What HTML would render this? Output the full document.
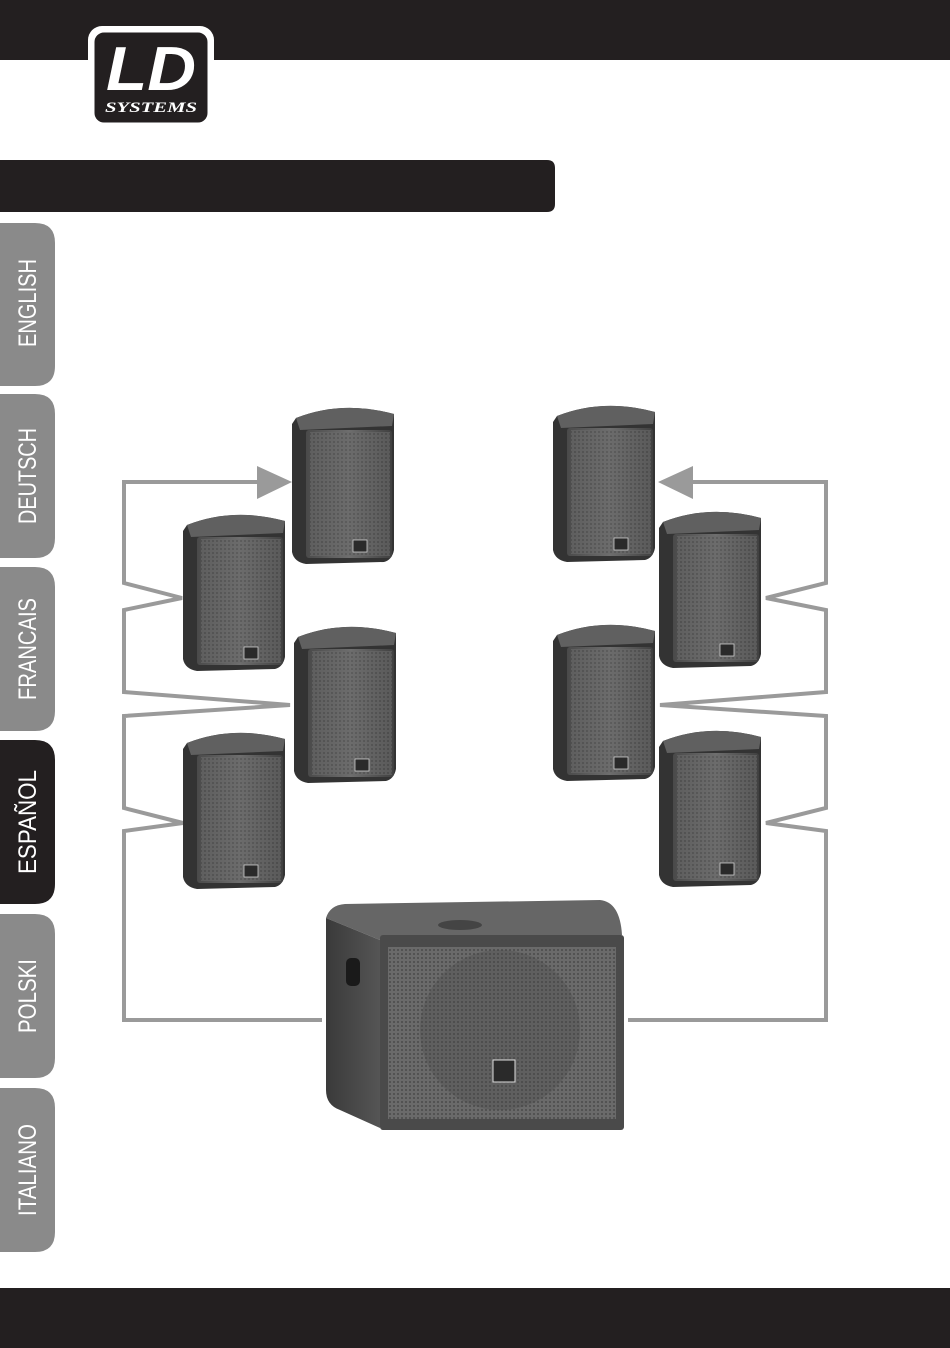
<!DOCTYPE html>
<html><head><meta charset="utf-8"><style>html,body{margin:0;padding:0;background:#fff}svg{display:block}</style></head>
<body>
<svg width="950" height="1348" viewBox="0 0 950 1348" xmlns="http://www.w3.org/2000/svg" font-family="Liberation Sans, sans-serif">
<defs>
<linearGradient id="fr" x1="0" x2="1" y1="0" y2="0"><stop offset="0" stop-color="#4a4a4a"/><stop offset="0.5" stop-color="#6e6e6e"/><stop offset="1" stop-color="#404040"/></linearGradient>
<linearGradient id="sd" x1="0" x2="1"><stop offset="0" stop-color="#3a3a3a"/><stop offset="1" stop-color="#555"/></linearGradient>
<pattern id="dots" width="4" height="4" patternUnits="userSpaceOnUse"><rect width="4" height="4" fill="#6a6a6a"/><circle cx="2" cy="2" r="1" fill="#4a4a4a"/></pattern>
<g id="spk">
<path d="M4 14 Q50 -4 102 10 L102 146 Q100 156 92 158 L14 160 Q2 158 0 148 L0 20 Z" fill="#333"/>
<path d="M4 14 Q50 -4 102 10 L100 22 L8 26 Z" fill="#606060"/>
<rect x="14" y="26" width="86" height="128" rx="3" fill="url(#fr)"/>
<rect x="18" y="28" width="80" height="124" fill="url(#dots)" opacity="0.6"/>
<rect x="61" y="136" width="14" height="12" fill="#2a2a2a" stroke="#ccc" stroke-width="0.8"/>
</g>
</defs>
<rect x="0" y="0" width="950" height="60" fill="#231f20"/>
<rect x="0" y="1288" width="950" height="60" fill="#231f20"/>
<rect x="88" y="26" width="126" height="101" rx="14" fill="#fff"/>
<rect x="94" y="32" width="114" height="91" rx="10" fill="#231f20" stroke="#fff" stroke-width="1"/>
<text x="151" y="90" text-anchor="middle" font-size="62" font-weight="bold" font-style="italic" fill="#fff" textLength="90" lengthAdjust="spacingAndGlyphs">LD</text>
<text x="151" y="112" text-anchor="middle" font-family="Liberation Serif, serif" font-size="15" font-weight="bold" font-style="italic" fill="#fff" textLength="92" lengthAdjust="spacingAndGlyphs">SYSTEMS</text>
<path d="M0 160 H547 Q555 160 555 168 V204 Q555 212 547 212 H0 Z" fill="#231f20"/>
<g>
<path d="M0 223 H35 Q55 223 55 243 V366 Q55 386 35 386 H0 Z" fill="#8a8a8a"/>
<path d="M0 394 H35 Q55 394 55 414 V538 Q55 558 35 558 H0 Z" fill="#8a8a8a"/>
<path d="M0 567 H35 Q55 567 55 587 V711 Q55 731 35 731 H0 Z" fill="#8a8a8a"/>
<path d="M0 740 H35 Q55 740 55 760 V884 Q55 904 35 904 H0 Z" fill="#231f20"/>
<path d="M0 914 H35 Q55 914 55 934 V1058 Q55 1078 35 1078 H0 Z" fill="#8a8a8a"/>
<path d="M0 1088 H35 Q55 1088 55 1108 V1232 Q55 1252 35 1252 H0 Z" fill="#8a8a8a"/>
<g fill="#fff" font-size="25" text-anchor="middle">
<text transform="translate(36,303) rotate(-90)" textLength="88" lengthAdjust="spacingAndGlyphs">ENGLISH</text>
<text transform="translate(36,476) rotate(-90)" textLength="96" lengthAdjust="spacingAndGlyphs">DEUTSCH</text>
<text transform="translate(36,649) rotate(-90)" textLength="102" lengthAdjust="spacingAndGlyphs">FRANCAIS</text>
<text transform="translate(36,822) rotate(-90)" textLength="104" lengthAdjust="spacingAndGlyphs">ESPAÑOL</text>
<text transform="translate(36,996) rotate(-90)" textLength="74" lengthAdjust="spacingAndGlyphs">POLSKI</text>
<text transform="translate(36,1170) rotate(-90)" textLength="92" lengthAdjust="spacingAndGlyphs">ITALIANO</text>
</g>
</g>
<g fill="none" stroke="#9a9a9a" stroke-width="4" stroke-linejoin="miter">
<path d="M260 482 H124 V583 L182 598 L124 610 V692 L290 705 L124 716 V808 L183 823 L124 831 V1020 H322"/>
<path d="M690 482 H826 V583 L766 598 L826 610 V692 L660 705 L826 716 V808 L766 823 L826 831 V1020 H628"/>
</g>
<polygon points="257,466 292,482 257,499" fill="#9a9a9a"/>
<polygon points="693,466 658,482 693,499" fill="#9a9a9a"/>
<use href="#spk" transform="translate(292,404)"/>
<use href="#spk" transform="translate(183,511)"/>
<use href="#spk" transform="translate(294,623)"/>
<use href="#spk" transform="translate(183,729)"/>
<use href="#spk" transform="translate(553,402)"/>
<use href="#spk" transform="translate(659,508)"/>
<use href="#spk" transform="translate(553,621)"/>
<use href="#spk" transform="translate(659,727)"/>
<path d="M326 918 Q330 905 345 904 L600 900 Q620 902 622 935 L380 940 Z" fill="#666"/>
<path d="M326 918 L380 940 L380 1128 L340 1110 Q326 1105 326 1090 Z" fill="url(#sd)"/>
<ellipse cx="460" cy="925" rx="22" ry="5" fill="#444"/>
<rect x="346" y="958" width="14" height="28" rx="5" fill="#1a1a1a"/>
<rect x="380" y="935" width="244" height="195" rx="3" fill="#4a4a4a"/>
<rect x="388" y="947" width="228" height="172" fill="url(#dots)"/>
<circle cx="500" cy="1030" r="80" fill="#444" opacity="0.3"/>
<rect x="493" y="1060" width="22" height="22" fill="#2a2a2a" stroke="#ddd" stroke-width="1"/>
</svg>
</body></html>
